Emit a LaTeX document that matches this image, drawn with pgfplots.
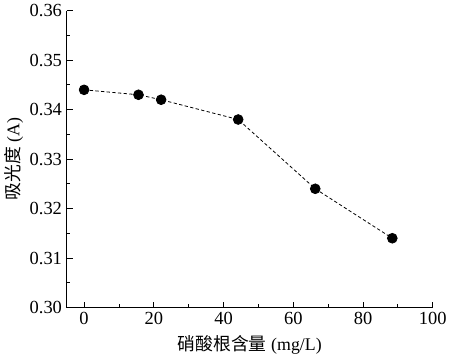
\documentclass[border=0pt]{standalone}
\usepackage{pgfplots}
\pgfplotsset{compat=1.18}
\usepackage{fontspec}
\setmainfont{Liberation Serif}
\newfontfamily\cjk{Noto Sans CJK SC}
\begin{document}
\begin{tikzpicture}
\begin{axis}[
  scale only axis,
  width=277.5pt, height=225pt,
  xmin=-5, xmax=100, ymin=0.30, ymax=0.36,
  axis x line*=bottom, axis y line*=left,
  axis line style={-, line width=0.6pt},
  tick align=inside,
  xtick={0,20,...,100}, minor xtick={10,30,...,90},
  ytick={0.30,0.31,...,0.361}, minor ytick={0.305,0.315,...,0.356},
  major tick length=4.5pt, minor tick length=2.5pt,
  tick style={line width=0.6pt, black},
  /pgf/number format/assume math mode=true,
  yticklabel style={/pgf/number format/fixed, /pgf/number format/fixed zerofill, /pgf/number format/precision=2},
  ticklabel style={font=\fontsize{14}{16}\selectfont},
  xlabel={{\cjk 硝酸根含量} (mg/L)},
  ylabel={{\cjk 吸光度} (A)},
  label style={font=\fontsize{13.5}{16}\selectfont},
  xlabel style={yshift=-1pt},
  ylabel style={yshift=-2pt},
]
\addplot[black, line width=0.6pt, dash pattern=on 2.5pt off 1.8pt, mark=*, mark size=3.7pt, mark options={solid, fill=black}]
coordinates {(0,0.344) (15.6,0.343) (22.1,0.342) (44.2,0.338) (66.3,0.324) (88.4,0.314)};
\end{axis}
\end{tikzpicture}
\end{document}
